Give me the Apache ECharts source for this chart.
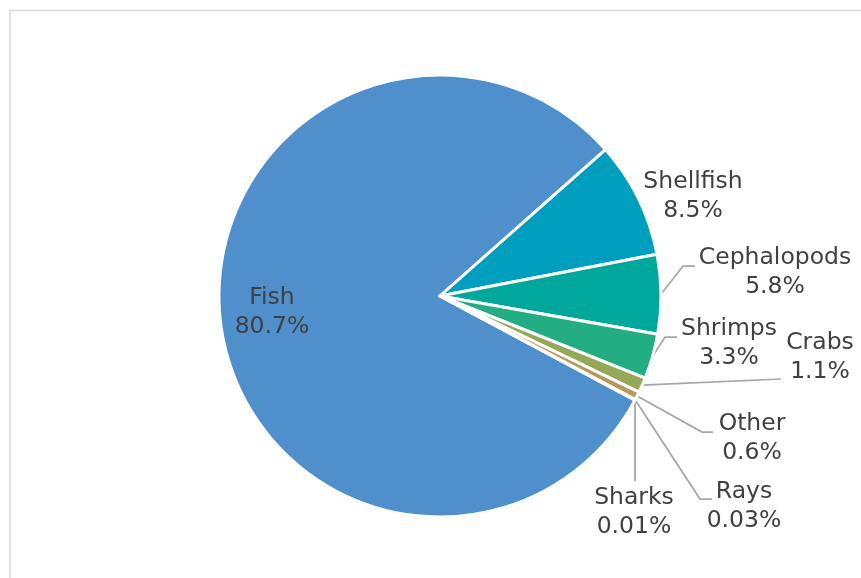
<!DOCTYPE html>
<html>
<head>
<meta charset="utf-8">
<script src="https://cdn.jsdelivr.net/npm/echarts@6/dist/echarts.min.js"></script>
<style>
html,body{margin:0;padding:0;background:#fff;}
#chart{width:861px;height:578px;}
</style>
</head>
<body>
<div id="chart"></div>
<script>
// ---- data ----
const categories = ['Fish', 'Shellfish', 'Cephalopods', 'Shrimps', 'Crabs', 'Other', 'Rays', 'Sharks'];
const shares = [80.7, 8.5, 5.8, 3.3, 1.1, 0.6, 0.03, 0.01];

// ---- styles ----
const colors = ['#4F8FCC', '#009EBE', '#00A89C', '#23AD83', '#95A858', '#B9975B', '#8B7EB5', '#C0504D'];
// label block centres (pixels) and leader-line bend/end points
const labelPos = [[272, 312], [693, 196], [775, 272], [729, 343], [820, 357], [752, 438], [744, 506], [634, 512]];
const leaderPts = [null, null, [[683, 266], [695, 266]], [[665, 337], [677, 337]], [[781, 379]], [[702, 432], [713, 432]], [[700, 499], [712, 499]], [[635, 481]]];

const chart = echarts.init(document.getElementById('chart'), null, {renderer: 'canvas'});

const data = categories.map((name, i) => ({
  name: name,
  value: shares[i],
  itemStyle: {color: colors[i]},
  labelLine: {show: leaderPts[i] !== null}
}));

chart.setOption({
  animation: false,
  graphic: [{
    type: 'rect',
    shape: {x: 10, y: 10.5, width: 900, height: 700},
    style: {fill: 'none', stroke: '#D9D9D9', lineWidth: 1.5},
    silent: true
  }],
  series: [{
    type: 'pie',
    center: [440, 296],
    radius: 221,
    startAngle: -28.1,
    clockwise: true,
    avoidLabelOverlap: false,
    emphasis: {disabled: true},
    itemStyle: {borderColor: '#ffffff', borderWidth: 3},
    label: {
      show: true,
      position: 'outside',
      color: '#404040',
      fontFamily: 'DejaVu Sans',
      fontSize: 23.5,
      lineHeight: 29,
      align: 'center',
      formatter: p => p.name + '\n' + p.value + '%'
    },
    labelLine: {
      show: true,
      lineStyle: {color: '#A6A6A6', width: 1.75}
    },
    labelLayout: function (params) {
      const i = params.dataIndex;
      const out = {x: labelPos[i][0], y: labelPos[i][1], align: 'center', verticalAlign: 'middle'};
      if (leaderPts[i] && params.labelLinePoints) {
        const start = params.labelLinePoints[0];
        const pts = [start].concat(leaderPts[i]);
        while (pts.length < 3) pts.push(pts[pts.length - 1]);
        out.labelLinePoints = pts;
      }
      return out;
    },
    data: data
  }]
});
</script>
</body>
</html>
